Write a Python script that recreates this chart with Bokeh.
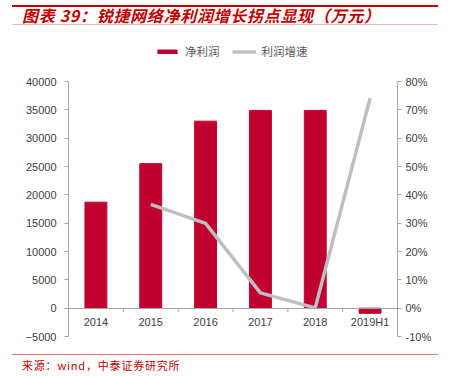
from bokeh.plotting import figure
from bokeh.models import (Range1d, LinearAxis, CategoricalAxis, FactorRange, FixedTicker,
                          PrintfTickFormatter, Legend, LegendItem, Div, ColumnDataSource)
from bokeh.transform import dodge
from bokeh.layouts import column
from bokeh.embed import file_html
from bokeh.resources import INLINE

# ---- data ----
years = ["2014", "2015", "2016", "2017", "2018", "2019H1"]
net_profit = [18700, 25500, 33000, 34900, 34900, -900]          # 万元
growth_years = ["2015", "2016", "2017", "2018", "2019H1"]
profit_growth = [36.6, 29.9, 5.4, 0.1, 74.1]                    # %
left_ticks = [-5000, 0, 5000, 10000, 15000, 20000, 25000, 30000, 35000, 40000]
right_ticks = [-10, 0, 10, 20, 30, 40, 50, 60, 70, 80]
title_text = "图表 39：锐捷网络净利润增长拐点显现（万元）"
source_text = "来源：wind，中泰证券研究所"
legend_labels = ["净利润", "利润增速"]

BAR = "#c0002f"
LINE = "#bfbfbf"
AXIS = "#a6a6a6"
TXT = "#404040"
FONT = "Liberation Sans"
CJK = "Noto Sans CJK SC"

# layout (pixels): axis span 255 px, extra 40 px of frame above it for the legend
AX_PX = 255
EXTRA_TOP = 40
lo, hi = left_ticks[0], left_ticks[-1]
rlo, rhi = right_ticks[0], right_ticks[-1]
top_l = hi + EXTRA_TOP * (hi - lo) / AX_PX
top_r = rhi + EXTRA_TOP * (rhi - rlo) / AX_PX

p = figure(x_range=FactorRange(*years), y_range=Range1d(lo, top_l),
           frame_width=329, frame_height=AX_PX + EXTRA_TOP,
           min_border_left=68, min_border_right=45, min_border_top=11, min_border_bottom=13,
           output_backend="svg", toolbar_location=None, x_axis_location=None,
           background_fill_color="white", border_fill_color="white")
p.outline_line_color = None
p.xgrid.visible = False
p.ygrid.visible = False
p.extra_y_ranges = {"pct": Range1d(rlo, top_r)}

bars = p.vbar(x=years, top=net_profit, width=0.4, fill_color=BAR, line_color=BAR)
line = p.line(x=growth_years, y=profit_growth, y_range_name="pct", line_color=LINE, line_width=3.5)

def style(ax):
    ax.axis_line_color = AXIS
    ax.major_tick_line_color = AXIS
    ax.minor_tick_line_color = None
    ax.major_tick_in = 0
    ax.major_tick_out = 4
    ax.major_label_text_font = FONT
    ax.major_label_text_font_size = "11px"
    ax.major_label_text_color = TXT

ya = p.yaxis[0]
ya.ticker = FixedTicker(ticks=left_ticks)
ya.bounds = (lo, hi)
style(ya)
ya.major_label_standoff = 8

ra = LinearAxis(y_range_name="pct", ticker=FixedTicker(ticks=right_ticks),
                formatter=PrintfTickFormatter(format="%d%%"), bounds=(rlo, rhi))
style(ra)
ra.major_label_standoff = 4
p.add_layout(ra, "right")

xa = CategoricalAxis(fixed_location=0)
style(xa)
xa.major_tick_line_color = None
xa.major_tick_out = 5
xa.major_label_standoff = 3
p.add_layout(xa, "below")

tsrc = ColumnDataSource(dict(x=years[1:], y0=[0] * 5, y1=[-700] * 5))
p.segment(x0=dodge("x", -0.5, range=p.x_range), x1=dodge("x", -0.5, range=p.x_range),
          y0="y0", y1="y1", source=tsrc, line_color=AXIS, line_width=1)

legend = Legend(items=[LegendItem(label=legend_labels[0], renderers=[bars]),
                       LegendItem(label=legend_labels[1], renderers=[line])],
                orientation="horizontal", location=(87, AX_PX + 22),
                label_text_font=CJK, label_text_font_size="11.5px", label_text_color="#595959",
                glyph_width=24, glyph_height=5, label_height=12, label_standoff=6,
                spacing=12, padding=0, margin=0, border_line_color=None,
                background_fill_alpha=0)
p.add_layout(legend)

header = Div(width=442, height=20, text=(
    '<div style="margin-left:7px;width:426px;height:20px;box-sizing:border-box;'
    'border-top:2px solid #c00000;border-bottom:1px solid #f2b6b6;padding-left:10px;'
    "font-family:'Noto Sans CJK SC';font-style:italic;font-weight:bold;font-size:16px;"
    'letter-spacing:0.7px;line-height:16px;color:#c00000;white-space:nowrap;">' + title_text + '</div>'))

footer = Div(width=442, height=18, text=(
    '<div style="margin-left:7px;width:426px;box-sizing:border-box;'
    'border-top:1px solid #e87878;padding-left:10px;padding-top:4px;'
    "font-family:'Noto Sans CJK SC';font-size:11px;letter-spacing:0.8px;line-height:13px;color:#c00000;"
    'white-space:nowrap;">' + source_text + '</div>'))

layout = column(header, p, footer, spacing=0)
open("out.html", "w").write(file_html(layout, INLINE))
